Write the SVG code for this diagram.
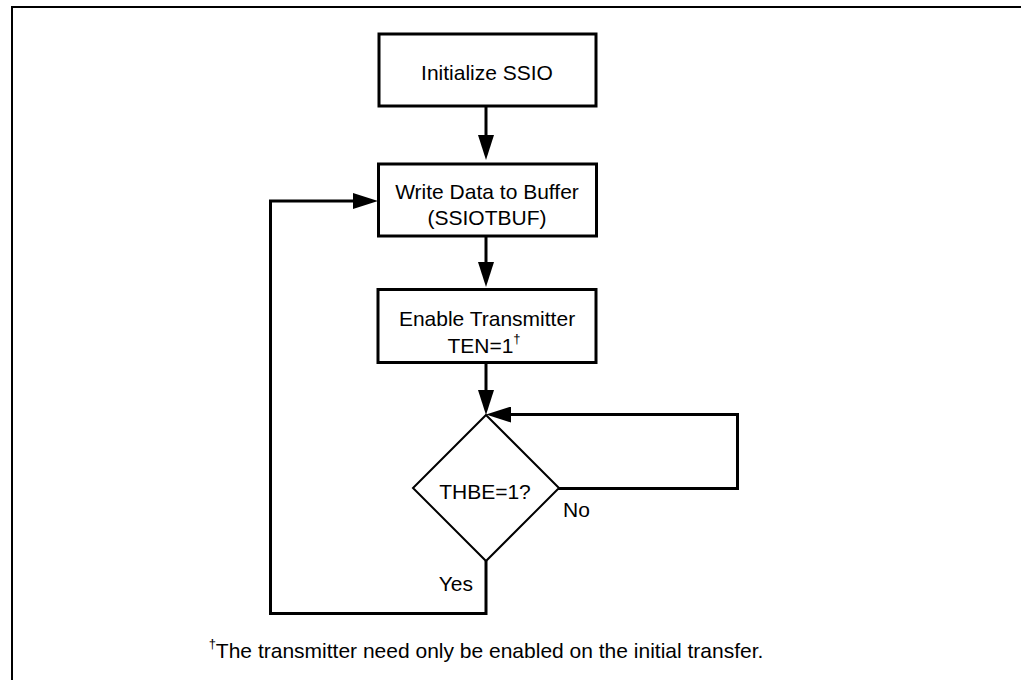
<svg xmlns="http://www.w3.org/2000/svg" width="1021" height="680" viewBox="0 0 1021 680">
<style>
  .box { fill: #fff; stroke: #000; stroke-width: 3; }
  .dia { fill: #fff; stroke: #000; stroke-width: 2; }
  .conn { fill: none; stroke: #000; stroke-width: 3; }
  text { font-family: "Liberation Sans", Arial, sans-serif; font-size: 21px; fill: #000; }
  .c { text-anchor: middle; }
  .sup { font-size: 13px; }
</style>
<defs>
  <marker id="arr" markerUnits="userSpaceOnUse" markerWidth="25" markerHeight="16" refX="15" refY="8" orient="auto">
    <path d="M0,0 L25,8 L0,16 Z" fill="#000"/>
  </marker>
</defs>
<rect width="1021" height="680" fill="#fff"/>
<path d="M12,680 V7 H1021" fill="none" stroke="#000" stroke-width="2"/>

<g id="connectors">
  <path class="conn" d="M486,107 V150" marker-end="url(#arr)"/>
  <path class="conn" d="M486,236 V277" marker-end="url(#arr)"/>
  <path class="conn" d="M486,363 V405" marker-end="url(#arr)"/>
  <path class="conn" d="M558,488.5 H737.5 V414.5 H496" marker-end="url(#arr)"/>
  <path class="conn" d="M486,561 V613.5 H270.5 V201 H368" marker-end="url(#arr)"/>
</g>

<g id="n-init">
  <rect class="box" x="379" y="34" width="217" height="72"/>
  <text class="c" x="487" y="80">Initialize SSIO</text>
</g>
<g id="n-write">
  <rect class="box" x="378.5" y="164" width="218" height="72"/>
  <text class="c" x="487" y="199">Write Data to Buffer</text>
  <text class="c" x="487" y="225">(SSIOTBUF)</text>
</g>
<g id="n-enable">
  <rect class="box" x="378" y="289.5" width="218" height="73"/>
  <text class="c" x="487" y="326">Enable Transmitter</text>
  <text class="c" x="484" y="353">TEN=1<tspan class="sup" dy="-10">†</tspan></text>
</g>
<g id="n-thbe">
  <path class="dia" d="M486,415 L559,488 L486,561 L413,488 Z"/>
  <text class="c" x="485" y="499">THBE=1?</text>
</g>
<g id="labels">
  <text x="563" y="517">No</text>
  <text x="473" y="591" text-anchor="end">Yes</text>
  <text class="c" x="486" y="658"><tspan class="sup" dy="-10">†</tspan><tspan dy="10">The transmitter need only be enabled on the initial transfer.</tspan></text>
</g>
</svg>
